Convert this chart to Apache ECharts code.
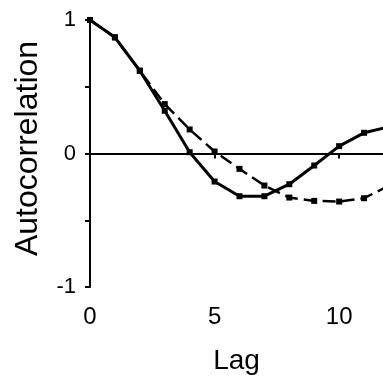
<!DOCTYPE html>
<html>
<head>
<meta charset="utf-8">
<script src="https://cdn.jsdelivr.net/npm/echarts@6/dist/echarts.min.js"></script>
<style>
  html, body { margin: 0; padding: 0; background: #fff; }
  #chart { width: 383px; height: 376px; }
</style>
</head>
<body>
<div id="chart"></div>
<script>
// lags and the two autocorrelation curves
const lags = [0, 1, 2, 3, 4, 5, 6, 7, 8, 9, 10, 11, 12];
const solidAcf = [1, 0.87, 0.62, 0.32, 0.01, -0.21, -0.32, -0.32, -0.23, -0.09, 0.055, 0.155, 0.2];
const dashedAcf = [1, 0.87, 0.62, 0.37, 0.18, 0.015, -0.115, -0.24, -0.33, -0.355, -0.36, -0.335, -0.24];
const xLabels = [0, 5, 10];
const yLabels = [-1, 0, 1];

const chart = echarts.init(document.getElementById('chart'), null, { renderer: 'canvas' });
const FONT = 'Liberation Sans, Arial, sans-serif';

const toPairs = (ys) => lags.map((x, i) => [x, ys[i]]);

const option = {
  animation: false,
  // fixed plot box, don't let names/labels shrink it
  grid: { left: 90, right: 0, top: 20, bottom: 89, outerBoundsMode: 'none' },
  xAxis: {
    type: 'value',
    min: 0,
    max: 11.76, // the original plot is cut off at the right edge
    interval: 5,
    name: 'Lag',
    nameLocation: 'middle',
    nameGap: 60,
    nameTextStyle: { fontFamily: FONT, fontSize: 28, color: '#000' },
    axisLine: { lineStyle: { color: '#000', width: 2 } },
    axisTick: { show: true, length: 5, lineStyle: { color: '#000', width: 2 } },
    axisLabel: {
      showMaxLabel: false,
      margin: 18,
      fontFamily: FONT, fontSize: 24, color: '#000',
      formatter: (v) => (xLabels.includes(v) ? String(v) : '')
    },
    splitLine: { show: false }
  },
  yAxis: {
    type: 'value',
    min: -1,
    max: 1,
    interval: 0.5,
    name: 'Autocorrelation',
    nameLocation: 'middle',
    nameRotate: 90,
    nameGap: 46,
    nameTextStyle: { fontFamily: FONT, fontSize: 32, color: '#000', padding: [0, 0, 0, 10] },
    axisLine: { show: true, lineStyle: { color: '#000', width: 2 } },
    axisTick: { show: true, length: 5, lineStyle: { color: '#000', width: 2 } },
    axisLabel: {
      margin: 14,
      fontFamily: FONT, fontSize: 22, color: '#000',
      formatter: (v) => (yLabels.includes(v) ? String(v) : '')
    },
    splitLine: { show: false }
  },
  series: [
    {
      type: 'line',
      data: toPairs(dashedAcf),
      symbol: 'rect',
      symbolSize: 6,
      itemStyle: { color: '#000' },
      lineStyle: { color: '#000', width: 2.5, type: [13, 6] },
      markLine: {
        silent: true,
        symbol: 'none',
        label: { show: false },
        lineStyle: { color: '#000', width: 1.5, type: 'solid' },
        data: [{ yAxis: 0 }]
      }
    },
    {
      type: 'line',
      data: toPairs(solidAcf),
      symbol: 'rect',
      symbolSize: 6,
      itemStyle: { color: '#000' },
      lineStyle: { color: '#000', width: 3 }
    }
  ]
};

chart.setOption(option);
</script>
</body>
</html>
